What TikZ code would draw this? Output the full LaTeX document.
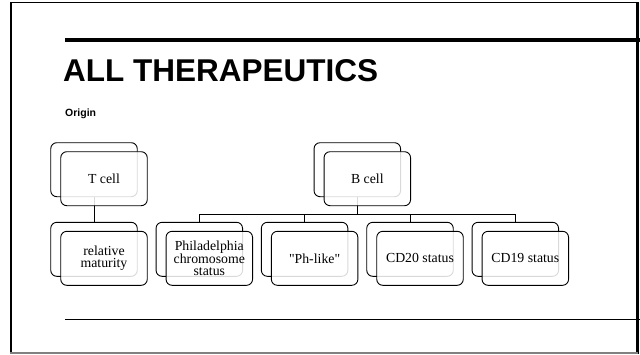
\documentclass[tikz,border=0pt]{standalone}
\usepackage{fontspec}
\setmainfont{Liberation Serif}[Ligatures=TeXOff]
\newfontfamily\headfont{Liberation Sans}
\begin{document}
\begin{tikzpicture}[x=1pt,y=-1pt,
  card/.style={draw=black, line width=0.9pt, rounded corners=6pt,
    minimum width=86.5pt, minimum height=54pt, inner sep=0pt, fill=white},
  face/.style={card, fill opacity=0.85, text opacity=1, align=center,
    font=\fontsize{13.8}{12.6}\selectfont},
  link/.style={draw=black, line width=0.9pt}]
\useasboundingbox (0,0) rectangle (640,354);

% slide frame
\draw[line width=2pt] (11,2.7) -- (11,354);
\draw[line width=1.5pt] (10,2.7) -- (638,2.7);
\draw[line width=2.2pt] (637.5,2) -- (637.5,354);
\draw[line width=1.5pt, gray] (10,353) -- (638,353);

% title rules
\draw[line width=4pt] (65,40) -- (640,40);
\draw[line width=1pt] (65,319) -- (640,319);

% headings
\node[anchor=base west, inner sep=0pt, font=\headfont\bfseries\fontsize{31.5}{34}\selectfont]
  (title) at (63,81.5) {ALL THERAPEUTICS};
\node[anchor=base west, inner sep=0pt, font=\headfont\bfseries\fontsize{10.5}{12}\selectfont]
  (origin) at (65,116) {Origin};

% back cards
\node[card] (tb) at (94,169.7) {};
\node[card] (bb) at (357.3,169.7) {};
\node[card] (mb) at (94,249.3) {};
\node[card] (pb) at (199.3,249.3) {};
\node[card] (lb) at (304.6,249.3) {};
\node[card] (c20b) at (410,249.3) {};
\node[card] (c19b) at (515.3,249.3) {};

% connectors
\coordinate (bus) at (357.3,214);
\draw[link] (tb.south) -- (mb.north);
\draw[link] (bb.south) -- (bus);
\draw[link] (bus) -| (pb.north);
\draw[link] (bus) -| (lb.north);
\draw[link] (bus) -| (c20b.north);
\draw[link] (bus) -| (c19b.north);

% front cards
\node[face] (tcell) at (104,178.7) {T cell};
\node[face] (bcell) at (367.3,178.7) {B cell};
\node[face] (mat) at (104,258.3) {relative\\maturity};
\node[face] (ph) at (209.3,258.3) {Philadelphia\\chromosome\\status};
\node[face] (phl) at (314.6,258.3) {"Ph-like"};
\node[face] (cd20) at (420,258.3) {CD20 status};
\node[face] (cd19) at (525.3,258.3) {CD19 status};
\end{tikzpicture}
\end{document}
